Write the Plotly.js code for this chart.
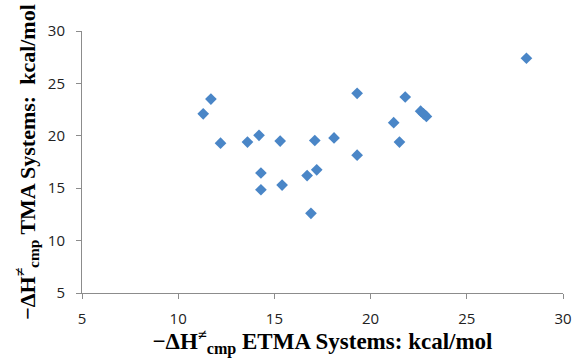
<!DOCTYPE html>
<html>
<head>
<meta charset="utf-8">
<script src="https://cdn.plot.ly/plotly-3.0.1.min.js"></script>
<style>html,body{margin:0;padding:0;background:#fff;}#chart{width:574px;height:358px;}</style>
</head>
<body>
<div id="chart"></div>
<script>
// -ΔH≠cmp ETMA systems (kcal/mol)
var etma = [11.3, 11.7, 12.2, 13.6, 14.2, 14.3, 14.3, 15.3, 15.4, 16.7, 16.9, 17.1, 17.2, 18.1, 19.3, 19.3, 21.2, 21.5, 21.8, 22.6, 22.75, 22.9, 28.1];
// -ΔH≠cmp TMA systems (kcal/mol)
var tma  = [22.1, 23.5, 19.3, 19.4, 20.05, 16.45, 14.85, 19.5, 15.3, 16.2, 12.6, 19.55, 16.75, 19.8, 24.05, 18.15, 21.25, 19.4, 23.7, 22.35, 22.1, 21.85, 27.4];

var xTicks = [5, 10, 15, 20, 25, 30];
var yTicks = [5, 10, 15, 20, 25, 30];
var xTitle = '\u2212\u0394H<sup>\u2260</sup><sub>cmp</sub> ETMA Systems: kcal/mol';
var yTitle = '\u2212\u0394H<sup>\u2260</sup><sub>cmp</sub> TMA Systems:  kcal/mol';

var trace = {
  x: etma, y: tma, type: 'scatter', mode: 'markers',
  marker: {symbol: 'diamond', size: 9, color: '#4A86C7', line: {width: 0}},
  hoverinfo: 'x+y'
};

var axisCommon = {
  showgrid: false, zeroline: false, showline: true,
  linecolor: '#8C8C8C', linewidth: 1,
  ticks: 'outside', ticklen: 5, tickcolor: '#8C8C8C', tickwidth: 1,
  tickfont: {family: 'Open Sans, Liberation Sans, sans-serif', size: 15, color: '#222'},
  tickmode: 'array'
};

var layout = {
  width: 574, height: 358,
  margin: {l: 82, r: 11, t: 31, b: 65},
  paper_bgcolor: '#fff', plot_bgcolor: '#fff',
  showlegend: false,
  xaxis: Object.assign({}, axisCommon, {
    range: [5, 30], tickvals: xTicks, ticktext: xTicks.map(String),
    ticklabelstandoff: 7,
    title: {text: xTitle, font: {family: 'Liberation Serif, Times New Roman, serif', size: 23, color: '#000', weight: 'bold'}, standoff: 1}
  }),
  yaxis: Object.assign({}, axisCommon, {
    range: [5, 30], tickvals: yTicks, ticktext: yTicks.map(String),
    ticklabelstandoff: 8,
    title: {text: yTitle, font: {family: 'Liberation Serif, Times New Roman, serif', size: 22, color: '#000', weight: 'bold'}, standoff: 6}
  })
};

Plotly.newPlot('chart', [trace], layout, {displayModeBar: false, staticPlot: true});
</script>
</body>
</html>
